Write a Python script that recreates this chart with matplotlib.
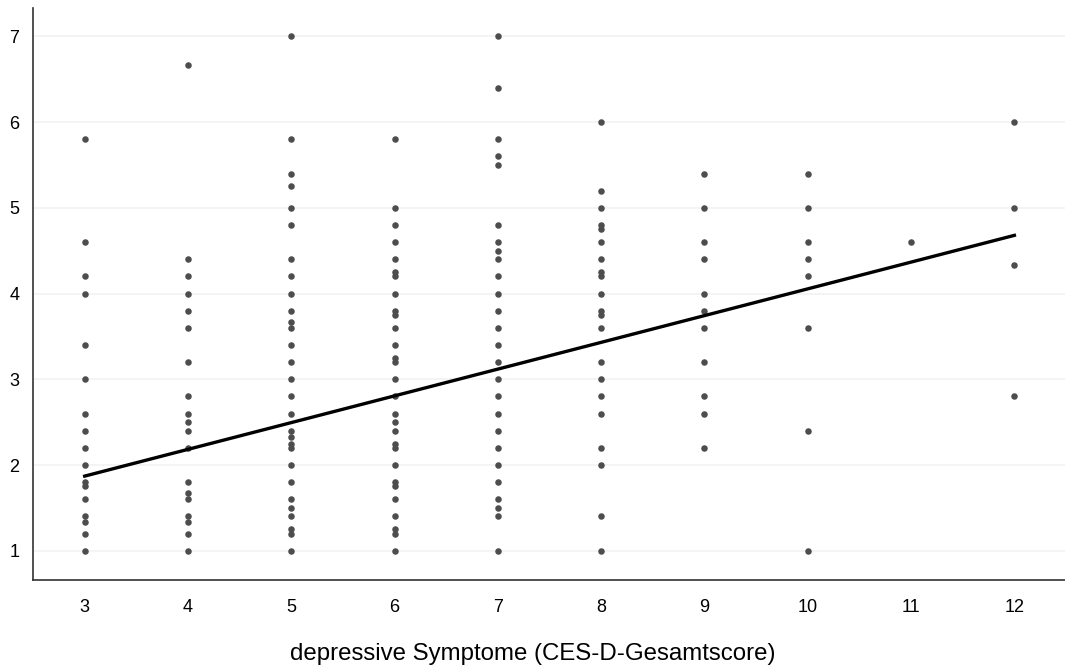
import numpy as np
import matplotlib.pyplot as plt

# CES-D score (x) and outcome values (y), one list per score
scores = [3, 4, 5, 6, 7, 8, 9, 10, 11, 12]
values = {
    3: [5.8, 4.6, 4.2, 4.0, 3.4, 3.0, 2.6, 2.4, 2.2, 2.0, 1.8, 1.75, 1.6, 1.4, 1.33, 1.2, 1.0],
    4: [6.67, 4.4, 4.2, 4.0, 3.8, 3.6, 3.2, 2.8, 2.6, 2.5, 2.4, 2.2, 1.8, 1.67, 1.6, 1.4, 1.33,
        1.2, 1.0],
    5: [7.0, 5.8, 5.4, 5.25, 5.0, 4.8, 4.4, 4.2, 4.0, 3.8, 3.67, 3.6, 3.4, 3.2, 3.0, 2.8, 2.6,
        2.4, 2.33, 2.25, 2.2, 2.0, 1.8, 1.6, 1.5, 1.4, 1.25, 1.2, 1.0],
    6: [5.8, 5.0, 4.8, 4.6, 4.4, 4.25, 4.2, 4.0, 3.8, 3.75, 3.6, 3.4, 3.25, 3.2, 3.0, 2.8, 2.6,
        2.5, 2.4, 2.25, 2.2, 2.0, 1.8, 1.75, 1.6, 1.4, 1.25, 1.2, 1.0],
    7: [7.0, 6.4, 5.8, 5.6, 5.5, 4.8, 4.6, 4.5, 4.4, 4.2, 4.0, 3.8, 3.6, 3.4, 3.2, 3.0, 2.8,
        2.6, 2.4, 2.2, 2.0, 1.8, 1.6, 1.5, 1.4, 1.0],
    8: [6.0, 5.2, 5.0, 4.8, 4.75, 4.6, 4.4, 4.25, 4.2, 4.0, 3.8, 3.75, 3.6, 3.2, 3.0, 2.8, 2.6,
        2.2, 2.0, 1.4, 1.0],
    9: [5.4, 5.0, 4.6, 4.4, 4.0, 3.8, 3.6, 3.2, 2.8, 2.6, 2.2],
    10: [5.4, 5.0, 4.6, 4.4, 4.2, 3.6, 2.4, 1.0],
    11: [4.6],
    12: [6.0, 5.0, 4.33, 2.8],
}

# regression line as drawn in the reference (fit on the full data set)
fit_slope = 0.312
fit_intercept = 0.935

x_label = 'depressive Symptome (CES-D-Gesamtscore)'
y_ticks = [1, 2, 3, 4, 5, 6, 7]

plt.rcParams['font.family'] = ['Liberation Sans', 'DejaVu Sans']

fig = plt.figure(figsize=(10.65, 6.72), dpi=100)
ax = fig.add_axes([0.031, 0.137, 0.969, 0.851])

xs = np.concatenate([[s] * len(values[s]) for s in scores])
ys = np.concatenate([values[s] for s in scores])
ax.scatter(xs, ys, s=22, color='#4d4d4d', linewidths=0, zorder=3)

line_x = np.array([min(scores), max(scores)])
ax.plot(line_x, fit_intercept + fit_slope * line_x, color='black', lw=2.4, zorder=4)

ax.set_xlim(2.5, 12.49)
ax.set_ylim(0.66, 7.33)
ax.set_xticks(scores)
ax.set_yticks(y_ticks)
ax.tick_params(length=0, labelsize=13, colors='black', pad=14)
ax.tick_params(axis='y', pad=10)
ax.grid(axis='y', color='#f2f2f2', lw=1.2)
ax.set_axisbelow(True)
for side in ['top', 'right']:
    ax.spines[side].set_visible(False)
for side in ['left', 'bottom']:
    ax.spines[side].set_color('#333333')
    ax.spines[side].set_linewidth(1.2)

# axis title is centred on the figure, not on the axes
fig.text(0.5, 0.027, x_label, fontsize=17.3, ha='center', va='center')

fig.savefig('out.png', dpi=100)
